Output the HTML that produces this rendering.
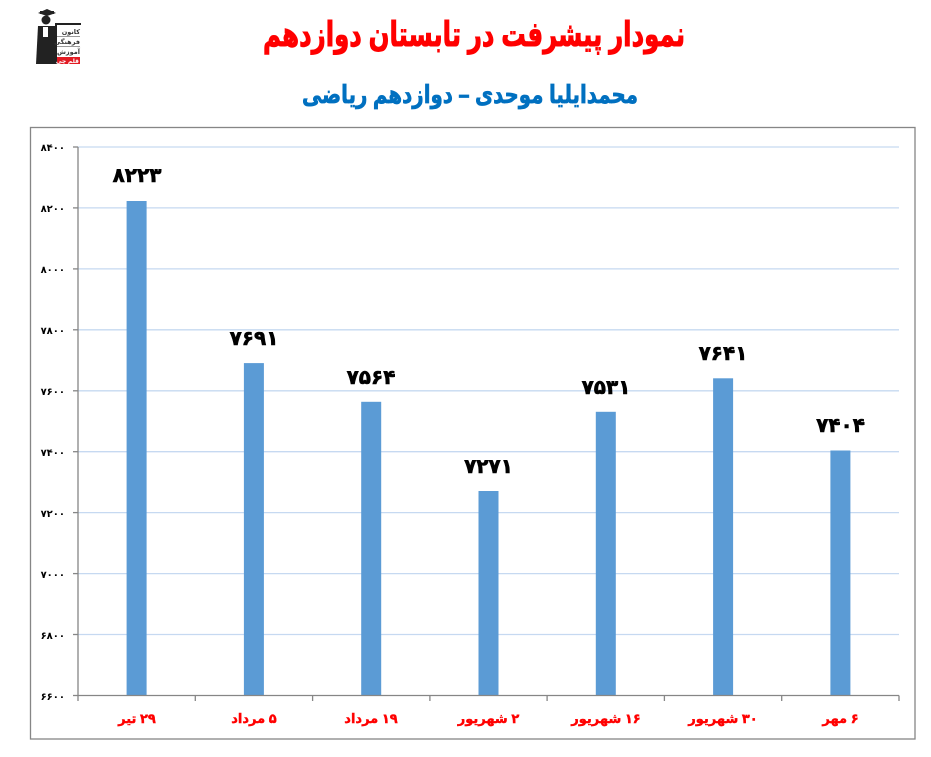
<!DOCTYPE html>
<html>
<head>
<meta charset="utf-8">
<style>
html,body{margin:0;padding:0;background:#fff;}
body{width:931px;height:757px;overflow:hidden;}
svg{display:block;}
text{font-family:"Liberation Sans","DejaVu Sans",sans-serif;font-weight:bold;}
</style>
</head>
<body>
<svg width="931" height="757" viewBox="0 0 931 757" xmlns="http://www.w3.org/2000/svg">
  <rect x="0" y="0" width="931" height="757" fill="#fff"/>

  <!-- logo -->
  <g>
    <rect x="40" y="11" width="14" height="3" fill="#222"/>
    <polygon points="38,13 47,9 56,13 47,16" fill="#222"/>
    <circle cx="46" cy="20" r="4.5" fill="#222"/>
    <polygon points="38,26 55,26 56,64 36,64" fill="#222"/>
    <rect x="43" y="27" width="5" height="10" fill="#fff"/>
    <rect x="55" y="23" width="2" height="41" fill="#222"/>
    <rect x="55" y="23" width="26" height="2" fill="#222"/>
    <text x="80" y="34" font-size="6.5" fill="#333" text-anchor="end">کانون</text>
    <rect x="57" y="36" width="23" height="1" fill="#999"/>
    <text x="80" y="44" font-size="6.5" fill="#333" text-anchor="end">فرهنگی</text>
    <rect x="57" y="46" width="23" height="1" fill="#999"/>
    <text x="80" y="54" font-size="6.5" fill="#333" text-anchor="end">آموزش</text>
    <rect x="57" y="57" width="23" height="7" fill="#e21b23"/>
    <text x="79" y="63" font-size="6" fill="#fff" text-anchor="end">قلم چی</text>
  </g>

  <!-- titles -->
  <text x="474" y="46" font-size="34" fill="#ff0000" stroke="#ff0000" stroke-width="1" text-anchor="middle" textLength="422" lengthAdjust="spacingAndGlyphs">نمودار پیشرفت در تابستان دوازدهم</text>
  <text x="470" y="103" font-size="25" fill="#0070c0" stroke="#0070c0" stroke-width="0.7" text-anchor="middle" textLength="336" lengthAdjust="spacingAndGlyphs">محمدایلیا موحدی – دوازدهم ریاضی</text>

  <!-- outer frame -->
  <rect x="30.5" y="127.5" width="884.5" height="611.5" fill="none" stroke="#868686" stroke-width="1.3"/>

  <!-- gridlines -->
  <g stroke="#c6d9f1" stroke-width="1.3">
    <line x1="78" x2="899" y1="147.0" y2="147.0"/>
    <line x1="78" x2="899" y1="207.9" y2="207.9"/>
    <line x1="78" x2="899" y1="268.9" y2="268.9"/>
    <line x1="78" x2="899" y1="329.8" y2="329.8"/>
    <line x1="78" x2="899" y1="390.8" y2="390.8"/>
    <line x1="78" x2="899" y1="451.7" y2="451.7"/>
    <line x1="78" x2="899" y1="512.6" y2="512.6"/>
    <line x1="78" x2="899" y1="573.6" y2="573.6"/>
    <line x1="78" x2="899" y1="634.5" y2="634.5"/>
  </g>

  <!-- bars -->
  <g fill="#5b9bd5">
    <rect x="126.6" y="201.0" width="20" height="494.5"/>
    <rect x="243.9" y="363.1" width="20" height="332.4"/>
    <rect x="361.2" y="401.8" width="20" height="293.7"/>
    <rect x="478.5" y="491.0" width="20" height="204.5"/>
    <rect x="595.8" y="411.8" width="20" height="283.7"/>
    <rect x="713.1" y="378.3" width="20" height="317.2"/>
    <rect x="830.4" y="450.5" width="20" height="245.0"/>
  </g>

  <!-- axes -->
  <g stroke="#868686" stroke-width="1.3" fill="none">
    <line x1="78" y1="147" x2="78" y2="695.5"/>
    <line x1="78" y1="695.5" x2="899" y2="695.5"/>
    <line x1="73" x2="78" y1="147.0" y2="147.0"/>
    <line x1="73" x2="78" y1="207.9" y2="207.9"/>
    <line x1="73" x2="78" y1="268.9" y2="268.9"/>
    <line x1="73" x2="78" y1="329.8" y2="329.8"/>
    <line x1="73" x2="78" y1="390.8" y2="390.8"/>
    <line x1="73" x2="78" y1="451.7" y2="451.7"/>
    <line x1="73" x2="78" y1="512.6" y2="512.6"/>
    <line x1="73" x2="78" y1="573.6" y2="573.6"/>
    <line x1="73" x2="78" y1="634.5" y2="634.5"/>
    <line x1="73" x2="78" y1="695.5" y2="695.5"/>
    <line x1="78" x2="78" y1="695.5" y2="701"/>
    <line x1="195.3" x2="195.3" y1="695.5" y2="701"/>
    <line x1="312.6" x2="312.6" y1="695.5" y2="701"/>
    <line x1="429.9" x2="429.9" y1="695.5" y2="701"/>
    <line x1="547.1" x2="547.1" y1="695.5" y2="701"/>
    <line x1="664.4" x2="664.4" y1="695.5" y2="701"/>
    <line x1="781.7" x2="781.7" y1="695.5" y2="701"/>
    <line x1="899" x2="899" y1="695.5" y2="701"/>
  </g>

  <!-- y labels -->
  <g font-size="10" fill="#000" text-anchor="end">
    <text x="65" y="151">۸۴۰۰</text>
    <text x="65" y="212">۸۲۰۰</text>
    <text x="65" y="273">۸۰۰۰</text>
    <text x="65" y="334">۷۸۰۰</text>
    <text x="65" y="395">۷۶۰۰</text>
    <text x="65" y="456">۷۴۰۰</text>
    <text x="65" y="517">۷۲۰۰</text>
    <text x="65" y="578">۷۰۰۰</text>
    <text x="65" y="639">۶۸۰۰</text>
    <text x="65" y="700">۶۶۰۰</text>
  </g>

  <!-- value labels -->
  <g font-size="20" fill="#000" stroke="#000" stroke-width="0.6" text-anchor="middle">
    <text x="137" y="182">۸۲۲۳</text>
    <text x="254" y="345">۷۶۹۱</text>
    <text x="371" y="384">۷۵۶۴</text>
    <text x="488.5" y="473">۷۲۷۱</text>
    <text x="606" y="394">۷۵۳۱</text>
    <text x="723" y="360">۷۶۴۱</text>
    <text x="840.5" y="432">۷۴۰۴</text>
  </g>

  <!-- x labels -->
  <g font-size="13" fill="#ff0000" stroke="#ff0000" stroke-width="0.4" text-anchor="middle" direction="rtl" style="direction:rtl;unicode-bidi:embed">
    <text x="137" y="723">۲۹ تیر</text>
    <text x="254" y="723">۵ مرداد</text>
    <text x="371" y="723">۱۹ مرداد</text>
    <text x="488.5" y="723">۲ شهریور</text>
    <text x="606" y="723">۱۶ شهریور</text>
    <text x="723" y="723">۳۰ شهریور</text>
    <text x="840.5" y="723">۶ مهر</text>
  </g>
</svg>
</body>
</html>
